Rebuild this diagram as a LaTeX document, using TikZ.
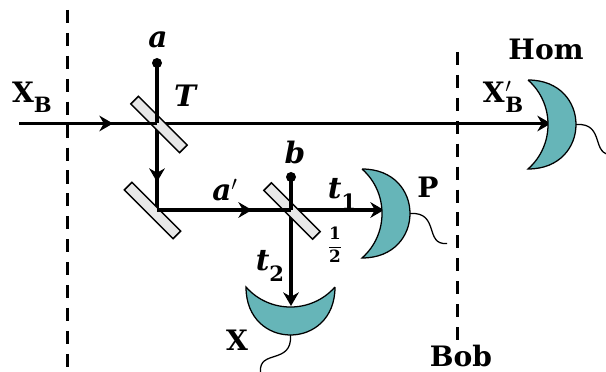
\documentclass[tikz,border=0pt]{standalone}
\usepackage{amsmath}
\usepackage{fontspec}
\newfontfamily\lblfont{DejaVu Serif}
\usetikzlibrary{arrows.meta}
\definecolor{detteal}{HTML}{66B5B8}
\definecolor{bsgray}{HTML}{E8E8E8}
\newcommand{\lowsub}[1]{\raisebox{-0.36em}{\fontsize{15}{16}\selectfont\upshape #1}}
\tikzset{
    beam/.style={line width=2.3pt},
    arrowbeam/.style={beam, -{Stealth[length=3.4mm,width=3.9mm,inset=1.1mm]}},
    bob/.style={line width=2.3pt, dash pattern=on 9.3pt off 7pt},
    splitter/.style={draw=black, line width=1.1pt, fill=bsgray, rotate=-45,
        minimum width=1.72cm, minimum height=0.27cm, inner sep=0pt},
    lbl/.style={inner sep=0pt, font=\lblfont\fontsize{21}{24}\selectfont\bfseries\itshape},
    lblbf/.style={inner sep=0pt, font=\lblfont\fontsize{20}{24}\selectfont\bfseries},
    pics/detector/.style={code={
        \draw[fill=detteal, line width=0.9pt] (0,-44.5) .. controls (64,-44.5) and (64,44.5) .. (0,44.5)
            .. controls (26.7,21) and (26.7,-21) .. (0,-44.5);
        \draw[line width=0.9pt] (48,0) .. controls (78,-2) and (62,32) .. (85,30);
    }}
}
\begin{document}
\begin{tikzpicture}[x=0.025cm, y=-0.025cm]
    \useasboundingbox (0,0) rectangle (606,372);
    % dashed station borders
    \coordinate (L1) at (67.5,10);
    \coordinate (L2) at (67.5,369);
    \coordinate (R1) at (457.5,52);
    \coordinate (R2) at (457.5,340);
    \draw[bob] (L1) -- (L2);
    \draw[bob] (R1) -- (R2);
    % beam points
    \coordinate (In) at (19,123.5);
    \coordinate (InTip) at (113,123.5);
    \coordinate (Tc) at (157,123.5);
    \coordinate (Mc) at (157,210);
    \coordinate (DownTip) at (157,182);
    \coordinate (Bc) at (291,210);
    \coordinate (MidTip) at (252,210);
    \coordinate (a) at (157,63);
    \coordinate (b) at (291,177);
    \coordinate (HomTip) at (551,123.5);
    \coordinate (PTip) at (384,210);
    \coordinate (XTip) at (291,306);
    % lines under the splitters
    \draw[arrowbeam] (Tc) -- (HomTip);
    \draw[arrowbeam] (Bc) -- (PTip);
    \draw[arrowbeam] (Bc) -- (XTip);
    \draw[beam] (Tc) -- (Mc);
    \draw[arrowbeam] (Tc) -- (DownTip);
    % splitters
    \node[splitter] (T) at (159,124.5) {};
    \node[splitter] (M) at (152.5,210.5) {};
    \node[splitter] (S) at (292,211) {};
    % lines over the splitters
    \draw[beam] (In) -- (Tc);
    \draw[arrowbeam] (In) -- (InTip);
    \draw[beam] (a) -- (Tc);
    \draw[beam] (Mc) -- (Bc);
    \draw[arrowbeam] (Mc) -- (MidTip);
    \draw[beam] (b) -- (Bc);
    \fill (a) circle (5);
    \fill (b) circle (5);
    % detectors
    \pic at (528,124.5) {detector};
    \pic at (362,213.5) {detector};
    \pic[rotate=-90] at (290.5,287) {detector};
    % labels
    \node[lbl] (la) at (158,40) {a};
    \node[lbl] (lT) at (185,96) {T};
    \node[lbl] (lb) at (295,152) {b};
    \node[lbl] (lap) at (225,190) {a$'$};
    \node[lbl] (lt1) at (342,194) {t\lowsub{1}};
    \node[lbl] (lt2) at (270,266) {t\lowsub{2}};
    \node[lblbf] (lhalf) at (335,245) {\fontsize{12}{14}\selectfont$\dfrac{\mbox{1}}{\mbox{2}}$};
    \node[lblbf] (lXB) at (32,97) {X\lowsub{B}};
    \node[lblbf] (lXBp) at (503,97) {X\hspace{0.02em}\rlap{$'$}\lowsub{B}};
    \node[lblbf] (lHom) at (546,49) {Hom};
    \node[lblbf] (lP) at (428,187) {P};
    \node[lblbf] (lX) at (237,340) {X};
    \node[lblbf] (lBob) at (461,356) {Bob};
\end{tikzpicture}
\end{document}
